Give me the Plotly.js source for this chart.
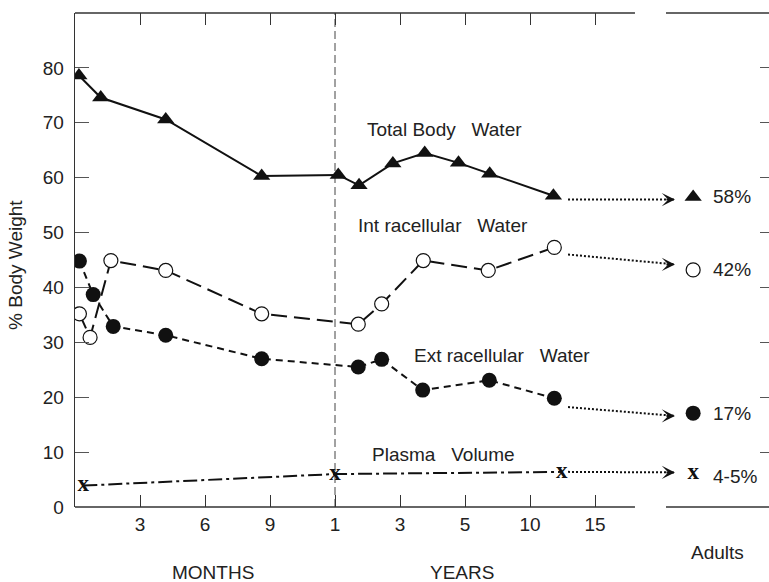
<!DOCTYPE html>
<html><head><meta charset="utf-8">
<script src="https://cdn.plot.ly/plotly-3.0.1.min.js"></script>
<style>html,body{margin:0;padding:0;background:#fff;} #chart{width:769px;height:582px;}</style>
</head><body><div id="chart"></div>
<script>
// ---------------- data ----------------
// age axis: piecewise scale, months for first year then years
const scaleAgesYears = [0, 0.25, 0.5, 0.75, 1, 3, 5, 10, 15];
const tickAgesYears = [0.25, 0.5, 0.75, 1, 3, 5, 10, 15];
const tickText = ['3', '6', '9', '1', '3', '5', '10', '15'];

const tbwAge = [0.015, 0.099, 0.349, 0.718, 1.10, 1.74, 2.78, 3.76, 4.80, 6.90, 11.8];
const tbwVal = [78.6, 74.6, 70.6, 60.3, 60.5, 58.6, 62.6, 64.5, 62.7, 60.7, 56.7];

const icwAge = [0.017, 0.058, 0.138, 0.349, 0.718, 1.716, 2.436, 3.716, 6.79, 11.87];
const icwVal = [35.2, 30.9, 44.9, 43.1, 35.2, 33.3, 37.0, 44.9, 43.1, 47.3];

const ecwAge = [0.017, 0.070, 0.147, 0.349, 0.718, 1.716, 2.436, 3.698, 6.87, 11.87];
const ecwVal = [44.8, 38.7, 32.9, 31.3, 27.0, 25.5, 26.9, 21.3, 23.1, 19.8];

const pvAge = [0.032, 1.0, 12.45];
const pvVal = [3.9, 6.0, 6.4];

const seriesLabel = ['Total Body\u00a0\u00a0\u00a0Water', 'Int racellular\u00a0\u00a0\u00a0Water',
                     'Ext racellular\u00a0\u00a0\u00a0Water', 'Plasma\u00a0\u00a0\u00a0Volume'];
const adultVal = [56.5, 43.2, 17.1, 6.2];
const adultLabel = ['58%', '42%', '17%', '4-5%'];
const arrowFromVal = [56.0, 46.0, 18.2, 6.4];
const arrowToVal = [56.0, 44.2, 16.6, 6.3];

const yTicks = [0, 10, 20, 30, 40, 50, 60, 70, 80];

// ---------------- scale / layout positions ----------------
function agePos(a) {
  const s = scaleAgesYears;
  for (let i = 1; i < s.length; i++) {
    if (a <= s[i]) return (i - 1) + (a - s[i - 1]) / (s[i] - s[i - 1]);
  }
  const n = s.length - 1;
  return n + (a - s[n]) / (s[n] - s[n - 1]);
}
const P = {
  xMax: 10.677, breakA: 8.615, breakB: 9.092,
  adultPos: 9.51, arrowStart: 7.585, arrowTip: 9.23, adultLabelPos: 9.785,
  labelX: [4.46, 4.323, 5.185, 4.538], labelY: [68.7, 51.3, 27.6, 9.6],
  adultLabelY: [56.5, 43.2, 17.1, 5.6]
};
const INK = '#111';
const TXT = '#222';
const FONT = 'Liberation Sans, Arial, sans-serif';
const SERIF = 'Liberation Serif, Times New Roman, serif';

const traces = [];
// dotted arrows to adult values
for (let i = 0; i < 4; i++) {
  traces.push({
    x: [P.arrowStart, P.arrowTip], y: [arrowFromVal[i], arrowToVal[i]],
    mode: 'lines', line: {color: INK, width: 2, dash: '2px,2px'},
    hoverinfo: 'skip', showlegend: false
  });
}
traces.push({
  x: tbwAge.map(agePos), y: tbwVal, mode: 'lines+markers', name: 'Total Body Water',
  line: {color: INK, width: 2},
  marker: {symbol: 'triangle-up', size: 15, color: INK, opacity: 1}, showlegend: false
});
traces.push({
  x: icwAge.map(agePos), y: icwVal, mode: 'lines+markers', name: 'Intracellular Water',
  line: {color: INK, width: 2, dash: '16px,7px'},
  marker: {symbol: 'circle', size: 14, color: '#fff', opacity: 1, line: {color: INK, width: 1.2}}, showlegend: false
});
traces.push({
  x: ecwAge.map(agePos), y: ecwVal, mode: 'lines+markers', name: 'Extracellular Water',
  line: {color: INK, width: 2, dash: '7px,5px'},
  marker: {symbol: 'circle', size: 15, color: INK, opacity: 1}, showlegend: false
});
traces.push({
  x: pvAge.map(agePos), y: pvVal, mode: 'lines+text', name: 'Plasma Volume',
  text: pvAge.map(() => 'x'), textposition: 'middle center',
  textfont: {family: SERIF, size: 23, color: INK, weight: 'bold'},
  line: {color: INK, width: 2, dash: '14px,4px,3px,4px'}, showlegend: false
});
// adult markers
traces.push({
  x: [P.adultPos, P.adultPos, P.adultPos], y: adultVal.slice(0, 3), mode: 'markers',
  marker: {symbol: ['triangle-up', 'circle', 'circle'], size: [15, 14, 15], opacity: 1,
           color: [INK, '#fff', INK], line: {color: INK, width: [0, 1.2, 0]}},
  showlegend: false, hoverinfo: 'y'
});
traces.push({
  x: [P.adultPos], y: [adultVal[3]], mode: 'text', text: ['x'], textposition: 'middle center',
  textfont: {family: SERIF, size: 23, color: INK, weight: 'bold'}, showlegend: false
});
// mirror axes holder
traces.push({x: [null], y: [null], xaxis: 'x2', yaxis: 'y2', mode: 'markers', showlegend: false, hoverinfo: 'skip'});

const annotations = [];
for (let i = 0; i < 4; i++) {
  annotations.push({x: P.labelX[i], y: P.labelY[i], xref: 'x', yref: 'y', text: seriesLabel[i],
    showarrow: false, xanchor: 'left', yanchor: 'middle', font: {family: FONT, size: 19, color: TXT}});
  annotations.push({x: P.adultLabelPos, y: P.adultLabelY[i], xref: 'x', yref: 'y', text: adultLabel[i],
    showarrow: false, xanchor: 'left', yanchor: 'middle', font: {family: FONT, size: 19, color: TXT}});
  annotations.push({x: P.arrowTip, y: arrowToVal[i], xref: 'x', yref: 'y', text: '',
    showarrow: true, arrowhead: 3, arrowsize: 1.1, arrowwidth: 2, arrowcolor: INK,
    ax: -10, ay: 0, standoff: 0});
}
annotations.push({x: 2.12, y: -0.133, xref: 'x', yref: 'paper', text: 'MONTHS', showarrow: false,
  xanchor: 'center', yanchor: 'middle', font: {family: FONT, size: 19, color: TXT}});
annotations.push({x: 5.96, y: -0.133, xref: 'x', yref: 'paper', text: 'YEARS', showarrow: false,
  xanchor: 'center', yanchor: 'middle', font: {family: FONT, size: 19, color: TXT}});
annotations.push({x: 9.88, y: -0.093, xref: 'x', yref: 'paper', text: 'Adults', showarrow: false,
  xanchor: 'center', yanchor: 'middle', font: {family: FONT, size: 19, color: TXT}});
annotations.push({x: -0.085, y: 0.49, xref: 'paper', yref: 'paper', text: '% Body Weight', showarrow: false,
  textangle: -90, xanchor: 'center', yanchor: 'middle', font: {family: FONT, size: 19, color: TXT}});

const lineStyle = {color: '#333', width: 1.3};
const shapes = [
  {type: 'line', xref: 'x', yref: 'paper', x0: 0, x1: P.breakA, y0: 0, y1: 0, line: lineStyle},
  {type: 'line', xref: 'x', yref: 'paper', x0: P.breakB, x1: P.xMax, y0: 0, y1: 0, line: lineStyle},
  {type: 'line', xref: 'x', yref: 'paper', x0: 0, x1: P.breakA, y0: 1, y1: 1, line: lineStyle},
  {type: 'line', xref: 'x', yref: 'paper', x0: P.breakB, x1: P.xMax, y0: 1, y1: 1, line: lineStyle},
  {type: 'line', xref: 'x', yref: 'paper', x0: agePos(1), x1: agePos(1), y0: 0, y1: 1,
   line: {color: '#444', width: 1, dash: '8px,4px'}, layer: 'below'}
];

const tickFont = {family: FONT, size: 19, color: TXT};
const layout = {
  width: 769, height: 582,
  margin: {l: 75, r: 0, t: 13, b: 75},
  paper_bgcolor: '#fff', plot_bgcolor: '#fff',
  showlegend: false,
  xaxis: {range: [0, P.xMax], showline: false, zeroline: false, showgrid: false,
          tickvals: tickAgesYears.map(agePos), ticktext: tickText, ticks: 'inside', ticklen: 12,
          tickcolor: '#333', tickwidth: 1, tickfont: tickFont, ticklabelstandoff: 4, fixedrange: true},
  xaxis2: {range: [0, P.xMax], overlaying: 'x', side: 'top', anchor: 'y', showline: false, zeroline: false,
           showgrid: false, tickvals: tickAgesYears.map(agePos), ticks: 'inside', ticklen: 12,
           tickcolor: '#333', tickwidth: 1, showticklabels: false},
  yaxis: {range: [0, 90], showline: true, linecolor: '#333', linewidth: 1.3, zeroline: false, showgrid: false,
          tickvals: yTicks, ticks: 'inside', ticklen: 14, tickcolor: '#555', tickwidth: 1,
          tickfont: tickFont, ticklabelstandoff: 6},
  yaxis2: {range: [0, 90], overlaying: 'y', side: 'right', anchor: 'free', position: 1, showline: false,
           zeroline: false, showgrid: false, tickvals: yTicks.slice(1), ticks: 'inside', ticklen: 9,
           tickcolor: '#555', tickwidth: 1, showticklabels: false},
  annotations: annotations,
  shapes: shapes
};
Plotly.newPlot('chart', traces, layout, {displayModeBar: false, staticPlot: true});
</script>
</body></html>
